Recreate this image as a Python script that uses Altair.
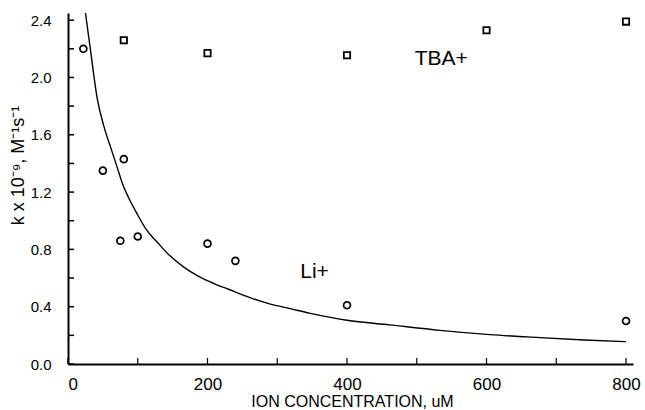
import altair as alt
import pandas as pd

# Li+ data (circles)
li_conc = [22, 50, 75, 80, 100, 200, 240, 400, 800]
li_k = [2.20, 1.35, 0.86, 1.43, 0.89, 0.84, 0.72, 0.41, 0.30]

# TBA+ data (squares)
tba_conc = [80, 200, 400, 600, 800]
tba_k = [2.26, 2.17, 2.155, 2.33, 2.39]

# fitted curve
fit_conc = [25, 32, 42, 52, 62, 72, 78, 88, 100, 112, 128, 145, 165, 188, 210, 231, 260, 289, 320, 346, 400, 461, 533, 605, 677, 740, 800]
fit_k = [2.45, 2.20, 1.85, 1.65, 1.50, 1.35, 1.26, 1.15, 1.04, 0.94, 0.85, 0.76, 0.68, 0.61, 0.56, 0.52, 0.465, 0.42, 0.385, 0.355, 0.305, 0.273, 0.235, 0.205, 0.184, 0.168, 0.156]

# axis ticks
x_ticks = [0, 100, 200, 300, 400, 500, 600, 700, 800]
x_labels = [0, 200, 400, 600, 800]
y_ticks = [0.0, 0.2, 0.4, 0.6, 0.8, 1.0, 1.2, 1.4, 1.6, 1.8, 2.0, 2.2, 2.4]
y_labels = [0.0, 0.4, 0.8, 1.2, 1.6, 2.0, 2.4]

# annotations
ann_text = ["TBA+", "Li+"]
ann_x = [497, 333]
ann_y = [2.09, 0.60]

FONT = "Liberation Sans"

li_df = pd.DataFrame({"c": li_conc, "k": li_k})
tba_df = pd.DataFrame({"c": tba_conc, "k": tba_k})
fit_df = pd.DataFrame({"c": fit_conc, "k": fit_k})
xt_df = pd.DataFrame({"c": x_ticks})
yt_df = pd.DataFrame({"k": y_ticks})
ann_df = pd.DataFrame({"t": ann_text, "c": ann_x, "k": ann_y})

xscale = alt.Scale(domain=[0, 810], nice=False, zero=False)
yscale = alt.Scale(domain=[0, 2.45], nice=False, zero=False)

xaxis = alt.Axis(
    values=x_labels, format="d", grid=False, ticks=False,
    domainColor="black", domainWidth=2,
    labelFont=FONT, labelFontSize=17, labelColor="black", labelPadding=12,
    title="ION CONCENTRATION, uM", titleFont=FONT, titleFontSize=16,
    titleFontWeight="normal", titleColor="black",
    titleX=284, titleY=37, titleBaseline="middle", titleAlign="center",
)
yaxis = alt.Axis(
    values=y_labels, format=".1f", grid=False, ticks=False,
    domainColor="black", domainWidth=2,
    labelFont=FONT, labelFontSize=15, labelColor="black", labelPadding=17,
    title="k x 10⁻⁹, M⁻¹s⁻¹", titleFont=FONT, titleFontSize=18,
    titleFontWeight="normal", titleColor="black",
    titleX=-50, titleY=152, titleAngle=-90, titleBaseline="middle", titleAlign="center",
)

fit = alt.Chart(fit_df).mark_line(color="black", strokeWidth=1.4, interpolate="monotone", clip=True).encode(
    x=alt.X("c:Q", scale=xscale, axis=xaxis),
    y=alt.Y("k:Q", scale=yscale, axis=yaxis),
)

li = alt.Chart(li_df).mark_point(shape="circle", filled=False, color="black", size=48, strokeWidth=1.7, opacity=1).encode(
    x=alt.X("c:Q", scale=xscale),
    y=alt.Y("k:Q", scale=yscale),
)

tba = alt.Chart(tba_df).mark_point(shape="square", filled=False, color="black", size=40, strokeWidth=1.8, opacity=1).encode(
    x=alt.X("c:Q", scale=xscale),
    y=alt.Y("k:Q", scale=yscale),
)

xt = alt.Chart(xt_df).mark_rule(color="black", strokeWidth=1.2).encode(
    x=alt.X("c:Q", scale=xscale),
    y=alt.value(351),
    y2=alt.value(345),
)

yt = alt.Chart(yt_df).mark_rule(color="black", strokeWidth=1.5).encode(
    y=alt.Y("k:Q", scale=yscale),
    x=alt.value(0),
    x2=alt.value(6),
)

ann = alt.Chart(ann_df).mark_text(font=FONT, fontSize=21, align="left", baseline="alphabetic", color="black").encode(
    x=alt.X("c:Q", scale=xscale),
    y=alt.Y("k:Q", scale=yscale),
    text="t:N",
)

chart = alt.layer(fit, li, tba, xt, yt, ann).properties(
    width=565, height=351,
    padding={"left": 68, "top": 13, "right": 12, "bottom": 46},
    autosize="none",
    background="white",
).configure_view(stroke=None)

chart.save("out.html", embed_options={"renderer": "svg", "actions": False})
